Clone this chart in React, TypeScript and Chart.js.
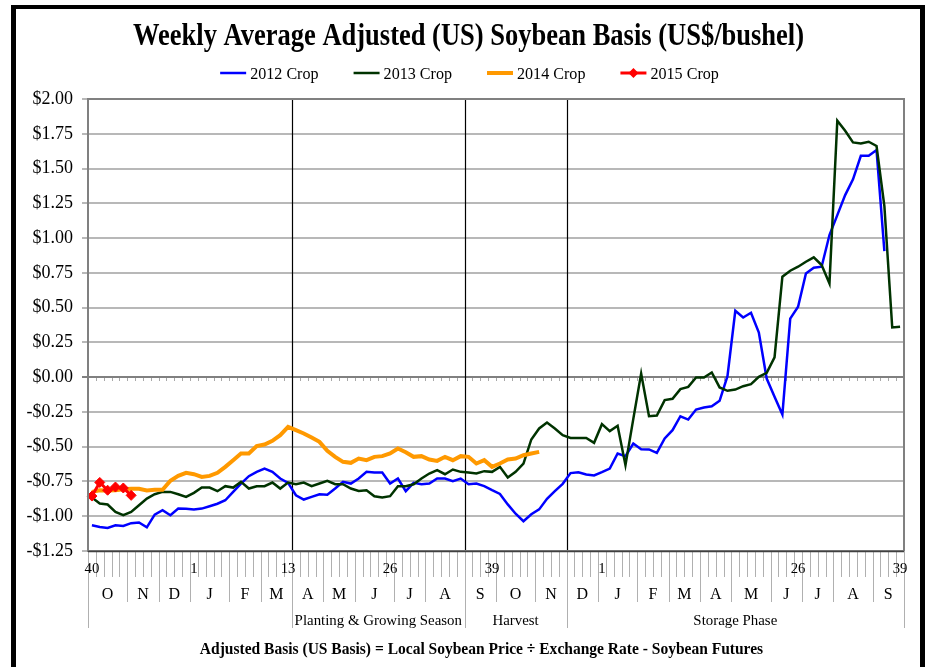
import React, { useEffect, useRef } from 'react';
import { Chart, registerables } from 'chart.js';

Chart.register(...registerables);

// ---- categories (week numbers, two marketing years) ----
const weekLabels = [
  '40','41','42','43','44','45','46','47','48','49','50','51','52',
  '1','2','3','4','5','6','7','8','9','10','11','12','13','14','15','16','17','18','19','20',
  '21','22','23','24','25','26','27','28','29','30','31','32','33','34','35','36','37','38','39','40',
  '41','42','43','44','45','46','47','48','49','50','51','52',
  '1','2','3','4','5','6','7','8','9','10','11','12','13','14','15','16','17','18','19','20',
  '21','22','23','24','25','26','27','28','29','30','31','32','33','34','35','36','37','38','39',
];
// category indices whose week number is printed
const labeledWeekIdx = [0, 13, 25, 38, 51, 65, 90, 103];

const monthLabels = ['O','N','D','J','F','M','A','M','J','J','A','S','O','N','D','J','F','M','A','M','J','J','A','S'];
const monthStarts = [0, 5, 9, 13, 18, 22, 26, 30, 34, 39, 43, 48, 52, 57, 61, 65, 70, 74, 78, 82, 87, 91, 95, 100];

const phaseLabels = ['', 'Planting & Growing Season', 'Harvest', 'Storage Phase'];
const phaseStarts = [0, 26, 48, 61];

// ---- series (US$/bushel) ----
const crop2012 = [
  -1.065, -1.077, -1.084, -1.065, -1.07, -1.05, -1.045, -1.08, -0.988, -0.957,
  -0.993, -0.945, -0.947, -0.952, -0.945, -0.928, -0.91, -0.885, -0.825, -0.765,
  -0.712, -0.681, -0.657, -0.681, -0.729, -0.76, -0.849, -0.88, -0.861, -0.842,
  -0.845, -0.801, -0.753, -0.765, -0.729, -0.681, -0.686, -0.686, -0.765, -0.729,
  -0.82, -0.76, -0.77, -0.765, -0.729, -0.729, -0.748, -0.729, -0.77, -0.765,
  -0.784, -0.813, -0.84, -0.915, -0.982, -1.036, -0.986, -0.951, -0.875, -0.82,
  -0.767, -0.69, -0.684, -0.70, -0.707, -0.683, -0.657, -0.549, -0.568, -0.477,
  -0.518, -0.52, -0.544, -0.441, -0.381, -0.281, -0.305, -0.233, -0.218, -0.209,
  -0.17, 0.007, 0.477, 0.429, 0.463, 0.321, -0.01, -0.141, -0.269, 0.421,
  0.506, 0.746, 0.787, 0.794, 1.022, 1.165, 1.309, 1.422, 1.592, 1.592,
  1.633, 0.906,
];
const crop2013 = [
  -0.866, -0.909, -0.916, -0.969, -0.993, -0.969, -0.921, -0.873, -0.842, -0.825,
  -0.825, -0.842, -0.861, -0.832, -0.794, -0.794, -0.82, -0.784, -0.794, -0.753,
  -0.801, -0.784, -0.784, -0.758, -0.801, -0.758, -0.77, -0.758, -0.784, -0.765,
  -0.746, -0.77, -0.77, -0.801, -0.818, -0.813, -0.856, -0.866, -0.856, -0.784,
  -0.784, -0.77, -0.729, -0.693, -0.669, -0.698, -0.664, -0.681, -0.686, -0.693,
  -0.676, -0.681, -0.645, -0.722, -0.681, -0.621, -0.448, -0.369, -0.326, -0.369,
  -0.417, -0.437, -0.437, -0.437, -0.472, -0.338, -0.388, -0.35, -0.633, -0.30,
  0.026, -0.281, -0.276, -0.165, -0.156, -0.086, -0.07, -0.002, -0.002, 0.034,
  -0.074, -0.098, -0.089, -0.065, -0.05, 0.002, 0.031, 0.142, 0.722, 0.765,
  0.794, 0.83, 0.861, 0.806, 0.674, 1.844, 1.772, 1.688, 1.681, 1.693,
  1.662, 1.23, 0.357, 0.362,
];
const crop2014 = [
  -0.825, -0.813, -0.815, -0.813, -0.806, -0.803, -0.803, -0.815, -0.81, -0.81,
  -0.745, -0.71, -0.688, -0.698, -0.717, -0.71, -0.688, -0.645, -0.597, -0.549,
  -0.549, -0.496, -0.484, -0.458, -0.417, -0.357, -0.381, -0.405, -0.434, -0.465,
  -0.53, -0.573, -0.609, -0.616, -0.585, -0.597, -0.573, -0.568, -0.549, -0.513,
  -0.54, -0.573, -0.568, -0.592, -0.602, -0.573, -0.597, -0.568, -0.573, -0.621,
  -0.597, -0.645, -0.621, -0.592, -0.585, -0.561, -0.549, -0.537,
];
const crop2015 = [-0.855, -0.757, -0.813, -0.79, -0.797, -0.85];

const seriesNames = ['2012 Crop', '2013 Crop', '2014 Crop', '2015 Crop'];
const seriesColors = ['#0000ff', '#003300', '#ff9900', '#ff0000'];

const yMin = -1.25;
const yMax = 2.0;
const yStep = 0.25;

const TITLE = 'Weekly Average Adjusted (US) Soybean Basis (US$/bushel)';
const FOOTNOTE = 'Adjusted Basis (US Basis) = Local Soybean Price \u00f7 Exchange Rate - Soybean Futures';

const FONT = '"Liberation Serif", "Times New Roman", serif';

const fmtDollar = (v: number) => (v < 0 ? '-$' : '$') + Math.abs(v).toFixed(2);

// draw text with a horizontal squeeze factor
const drawText = (ctx: any, text: string, x: number, y: number, font: string, sx: number, align = 'center') => {
  ctx.save();
  ctx.translate(x, y);
  ctx.scale(sx, 1);
  ctx.font = font;
  ctx.textAlign = align;
  ctx.textBaseline = 'middle';
  ctx.fillText(text, 0, 0);
  ctx.restore();
};

const decorPlugin = {
  id: 'decor',
  beforeDatasetsDraw(chart: any) {
    const { ctx, chartArea: a, scales } = chart;
    const x = scales.x;
    const y = scales.y;
    const bx = (b: number) => x.getPixelForValue(b - 0.5);
    ctx.save();
    // small ticks under zero line
    const y0 = Math.round(y.getPixelForValue(0));
    ctx.strokeStyle = '#a8a8a8';
    ctx.lineWidth = 1;
    ctx.beginPath();
    for (let b = 1; b < weekLabels.length; b++) {
      const px = Math.round(bx(b)) + 0.5;
      ctx.moveTo(px, y0 + 1);
      ctx.lineTo(px, y0 + 4);
    }
    ctx.stroke();
    // phase separators inside plot
    ctx.strokeStyle = '#000';
    ctx.lineWidth = 1.2;
    ctx.beginPath();
    phaseStarts.forEach((b) => {
      if (b > 0) {
        const px = Math.round(bx(b)) + 0.5;
        ctx.moveTo(px, a.top);
        ctx.lineTo(px, a.bottom);
      }
    });
    ctx.stroke();
    ctx.restore();
  },
  afterDraw(chart: any) {
    const { ctx, chartArea: a, scales } = chart;
    const x = scales.x;
    const n = weekLabels.length;
    const bx = (b: number) => x.getPixelForValue(b - 0.5);
    ctx.save();

    // plot border
    ctx.strokeStyle = '#808080';
    ctx.lineWidth = 2;
    ctx.strokeRect(a.left, a.top, a.right - a.left, a.bottom - a.top);

    // bottom multi-level axis
    const top = a.bottom;
    ctx.strokeStyle = '#b0b0b0';
    ctx.lineWidth = 1;
    ctx.beginPath();
    for (let b = 0; b <= n; b++) {
      const px = Math.round(bx(b)) + 0.5;
      ctx.moveTo(px, top);
      ctx.lineTo(px, top + 26);
    }
    [...monthStarts, n].forEach((b) => {
      const px = Math.round(bx(b)) + 0.5;
      ctx.moveTo(px, top + 26);
      ctx.lineTo(px, top + 51);
    });
    [...phaseStarts, n].forEach((b) => {
      const px = Math.round(bx(b)) + 0.5;
      ctx.moveTo(px, top + 51);
      ctx.lineTo(px, top + 77);
    });
    ctx.stroke();

    ctx.strokeStyle = '#404040';
    ctx.lineWidth = 1.5;
    ctx.beginPath();
    ctx.moveTo(a.left, top + 0.5);
    ctx.lineTo(a.right, top + 0.5);
    ctx.stroke();

    ctx.fillStyle = '#000';
    labeledWeekIdx.forEach((i) => {
      drawText(ctx, weekLabels[i], x.getPixelForValue(i), top + 18, `15.5px ${FONT}`, 0.95);
    });
    monthLabels.forEach((m, k) => {
      const s = monthStarts[k];
      const e = k + 1 < monthStarts.length ? monthStarts[k + 1] : n;
      drawText(ctx, m, (bx(s) + bx(e)) / 2, top + 44, `16px ${FONT}`, 1);
    });
    phaseLabels.forEach((p, k) => {
      if (!p) return;
      const s = phaseStarts[k];
      const e = k + 1 < phaseStarts.length ? phaseStarts[k + 1] : n;
      drawText(ctx, p, (bx(s) + bx(e)) / 2, top + 70, `15.5px ${FONT}`, 0.96);
    });

    // footnote
    drawText(ctx, FOOTNOTE, 481.5, 650, `bold 16px ${FONT}`, 0.97);

    // title (tall, slightly condensed)
    drawText(ctx, TITLE, 468.5, 37, `bold 31px ${FONT}`, 0.855);

    // legend
    const lsx = 0.92;
    const lfont = `17.5px ${FONT}`;
    ctx.font = lfont;
    const lineLen = 26;
    const gap = 4;
    const spacing = 35;
    const widths = chart.data.datasets.map((d: any) => ctx.measureText(d.label).width * lsx);
    const total = widths.reduce((s: number, w: number) => s + lineLen + gap + w, 0) + spacing * (widths.length - 1);
    let cx = 469.5 - total / 2;
    const ly = 73;
    chart.data.datasets.forEach((d: any, k: number) => {
      ctx.strokeStyle = d.borderColor;
      ctx.lineWidth = d.borderWidth;
      ctx.beginPath();
      ctx.moveTo(cx, ly);
      ctx.lineTo(cx + lineLen, ly);
      ctx.stroke();
      if (d.pointRadius > 0) {
        const mx = cx + lineLen / 2;
        const r = d.pointRadius;
        ctx.fillStyle = d.pointBackgroundColor;
        ctx.beginPath();
        ctx.moveTo(mx, ly - r);
        ctx.lineTo(mx + r, ly);
        ctx.lineTo(mx, ly + r);
        ctx.lineTo(mx - r, ly);
        ctx.closePath();
        ctx.fill();
      }
      ctx.fillStyle = '#000';
      drawText(ctx, d.label, cx + lineLen + gap, ly + 1, lfont, lsx, 'left');
      cx += lineLen + gap + widths[k] + spacing;
    });

    ctx.restore();
  },
};

export default function App() {
  const ref = useRef<HTMLCanvasElement>(null);

  useEffect(() => {
    const canvas = ref.current;
    if (!canvas) return;
    const mk = (k: number, data: number[], width: number, order: number, marker = false) => ({
      label: seriesNames[k],
      data,
      borderColor: seriesColors[k],
      backgroundColor: seriesColors[k],
      borderWidth: width,
      pointRadius: marker ? 5 : 0,
      pointHoverRadius: marker ? 5 : 0,
      pointStyle: 'rectRot',
      pointBackgroundColor: seriesColors[k],
      pointBorderColor: seriesColors[k],
      pointBorderWidth: 1,
      tension: 0,
      fill: false,
      order,
    });
    const chart = new Chart(canvas, {
      type: 'line',
      data: {
        labels: weekLabels,
        datasets: [
          mk(0, crop2012, 2.5, 3),
          mk(1, crop2013, 2.5, 2),
          mk(2, crop2014, 4, 1),
          mk(3, crop2015, 3, 0, true),
        ],
      },
      options: {
        responsive: false,
        animation: false,
        devicePixelRatio: 1,
        layout: { padding: { left: 0, right: 23, top: 99, bottom: 116 } },
        plugins: {
          legend: { display: false },
          title: { display: false },
          tooltip: { enabled: false },
        },
        events: [],
        scales: {
          x: {
            type: 'category',
            display: false,
            offset: true,
          },
          y: {
            min: yMin,
            max: yMax,
            afterFit: (s: any) => {
              s.width = 88;
            },
            ticks: {
              stepSize: yStep,
              callback: (v: any) => fmtDollar(Number(v)),
              color: '#000',
              padding: 9,
              font: { family: FONT, size: 18 },
            },
            grid: {
              color: (c: any) => (c.tick && c.tick.value === 0 ? '#808080' : '#b8b8b8'),
              lineWidth: 2,
              tickLength: 6,
              drawTicks: true,
            },
            border: { display: true, color: '#808080', width: 2 },
          },
        },
      },
      plugins: [decorPlugin],
    });
    return () => chart.destroy();
  }, []);

  return (
    <div
      style={{
        position: 'fixed',
        left: 0,
        top: 0,
        width: 927,
        height: 667,
        overflow: 'hidden',
        background: '#fff',
      }}
    >
      <canvas
        ref={ref}
        width={927}
        height={667}
        style={{ position: 'absolute', left: 0, top: 0, width: 927, height: 667 }}
      />
      <div
        style={{
          position: 'absolute',
          left: 11,
          top: 5,
          width: 904,
          height: 720,
          borderStyle: 'solid',
          borderColor: '#000',
          borderWidth: '4px 5px 5px 5px',
          pointerEvents: 'none',
        }}
      />
    </div>
  );
}
